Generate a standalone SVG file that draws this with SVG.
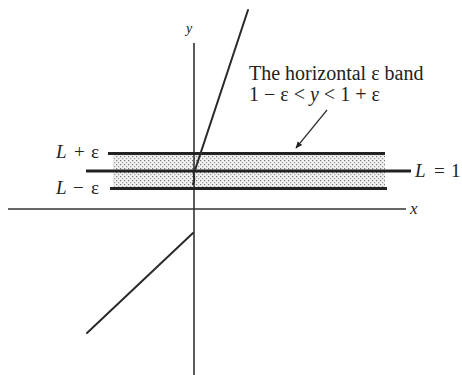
<svg xmlns="http://www.w3.org/2000/svg" width="462" height="375" viewBox="0 0 462 375">
<style>
text{font-family:"Liberation Serif","Times New Roman",serif;fill:#222}
.it{font-style:italic}
.ax{stroke:#333;stroke-width:1.6;fill:none}
.bl{stroke:#222;stroke-width:2.8;fill:none}
.cv{stroke:#2a2a2a;stroke-width:2;fill:none;stroke-linecap:round}
</style>
<defs>
<pattern id="dots" width="4" height="4" patternUnits="userSpaceOnUse">
<rect width="4" height="4" fill="#f0f0f0"/>
<rect x="0" y="0" width="1.2" height="1.2" fill="#777"/>
<rect x="2" y="2" width="1.2" height="1.2" fill="#999"/>
</pattern>
<marker id="ah" viewBox="0 0 10 10" refX="9" refY="5" markerWidth="7" markerHeight="7" orient="auto" markerUnits="userSpaceOnUse">
<path d="M0,1 L10,5 L0,9 Z" fill="#222"/>
</marker>
</defs>
<g id="band">
<rect x="113" y="155" width="272" height="33" fill="url(#dots)"/>
</g>
<g id="axes">
<line class="ax" x1="194" y1="43" x2="194" y2="375"/>
<line class="ax" x1="8" y1="209" x2="406" y2="209"/>
<text class="it" x="186" y="33" font-size="14">y</text>
<text class="it" x="410" y="214" font-size="17">x</text>
</g>
<g id="lines">
<line class="bl" x1="108" y1="153.5" x2="385" y2="153.5"/>
<line class="bl" x1="86" y1="171" x2="411" y2="171"/>
<line class="bl" x1="110" y1="188.5" x2="387" y2="188.5"/>
</g>
<g id="connectors">
<path class="cv" d="M248,10 L196,167 Q193,172 194,176 Q195,180 193,184"/>
<line class="cv" x1="87" y1="333" x2="193" y2="233"/>
<line stroke="#333" stroke-width="1.2" x1="327" y1="110" x2="296" y2="148" marker-end="url(#ah)"/>
</g>
<g id="labels">
<text font-size="19"><tspan class="it" x="56" y="158">L</tspan><tspan x="74" y="158">+</tspan><tspan x="91" y="158">ε</tspan></text>
<text font-size="19"><tspan class="it" x="56" y="194">L</tspan><tspan x="73" y="194">−</tspan><tspan x="91" y="194">ε</tspan></text>
<text font-size="19"><tspan class="it" x="415" y="177">L</tspan><tspan x="434" y="177">=</tspan><tspan x="451" y="177">1</tspan></text>
<text font-size="20" x="249" y="80">The horizontal ε band</text>
<text font-size="20" x="249" y="101">1 − ε &lt; <tspan class="it">y</tspan> &lt; 1 + ε</text>
</g>
</svg>
